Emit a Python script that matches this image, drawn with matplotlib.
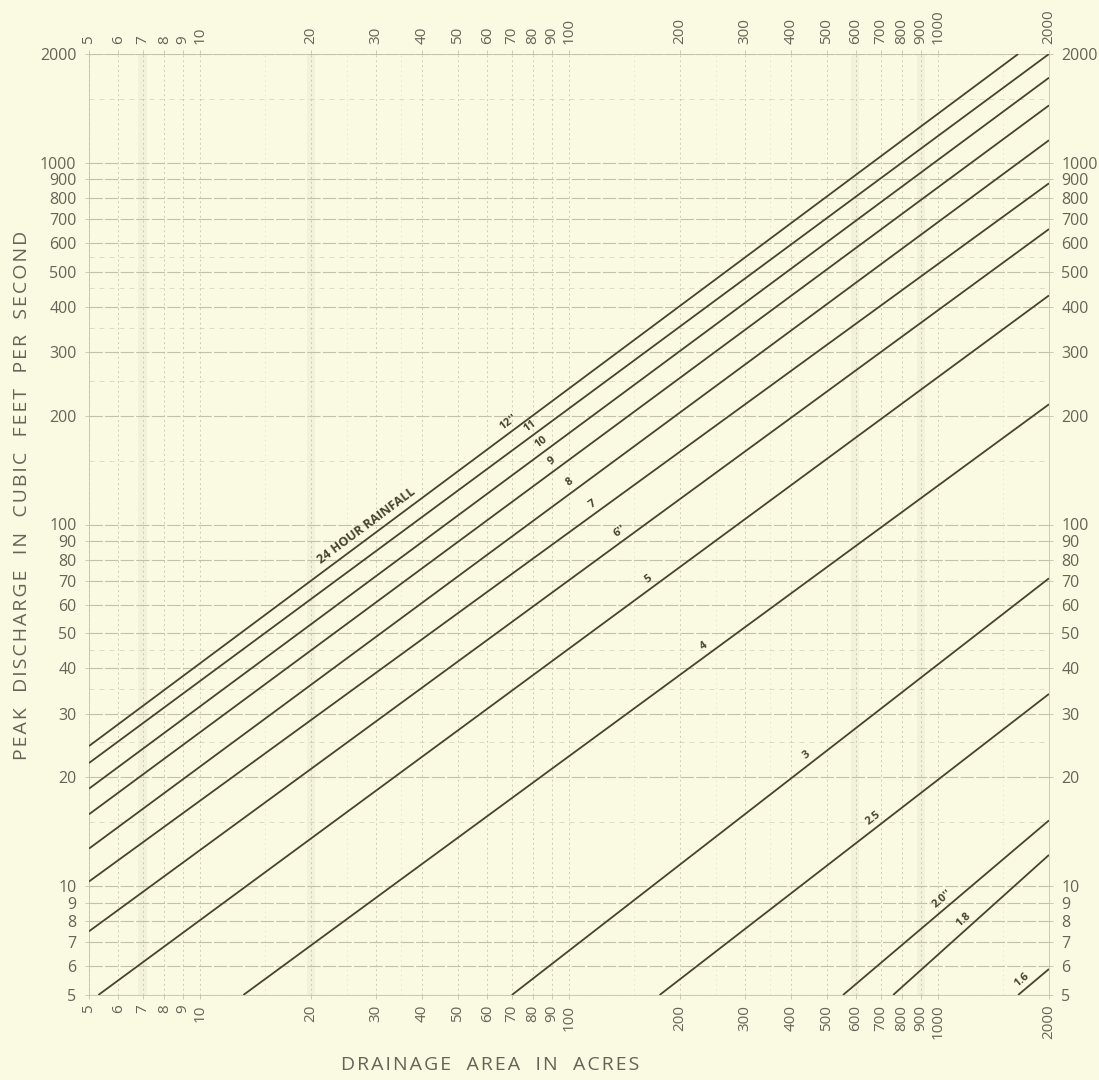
import numpy as np
import matplotlib
matplotlib.use("Agg")
import matplotlib.pyplot as plt

# 24-hour rainfall curves, each given by its two end points
rain_labels = ["12''", "11", "10", "9", "8", "7", "6''", "5", "4", "3",
               "2.5", "2.0''", "1.8", "1.6"]
x_start = [5, 5, 5, 5, 5, 5, 5, 5.3, 13.1, 70, 176, 553, 756, 1649]
y_start = [24.4, 21.9, 18.6, 15.8, 12.7, 10.3, 7.5, 5, 5, 5, 5, 5, 5, 5]
x_end = [1650, 2000, 2000, 2000, 2000, 2000, 2000, 2000, 2000, 2000,
         2000, 2000, 2000, 2000]
y_end = [2000, 2000, 1720, 1442, 1155, 878, 656, 430, 215, 71, 34, 15.2,
         12.2, 5.9]
# where along each curve its label sits (drainage area)
label_x = [71, 81, 87, 93, 104, 120, 142, 170, 240, 455, 690, 1065, 1220, 1750]

x_ticks = [5, 6, 7, 8, 9, 10, 20, 30, 40, 50, 60, 70, 80, 90, 100,
           200, 300, 400, 500, 600, 700, 800, 900, 1000, 2000]
y_ticks = [5, 6, 7, 8, 9, 10, 20, 30, 40, 50, 60, 70, 80, 90, 100,
           200, 300, 400, 500, 600, 700, 800, 900, 1000, 2000]
y_minor = [15, 25, 35, 45, 150, 250, 350, 450, 550, 1500]
x_minor = [15, 25, 35, 150, 250, 350, 1500]

paper = "#fafae2"
ink = "#48432f"
grey = "#646458"
grid = "#c2c2ac"

plt.rcParams['font.family'] = ['Open Sans', 'DejaVu Sans']


def spaced(s):
    # wide letter spacing like the printed axis titles
    return "   ".join("\u200a".join(w) for w in s.split())


fig = plt.figure(figsize=(10.99, 10.80), dpi=100, facecolor=paper)
ax = fig.add_axes([89 / 1099, 1 - 995 / 1080, 960 / 1099, 941 / 1080])
ax.set_facecolor(paper)
ax.set_xscale("log")
ax.set_yscale("log")
ax.set_xlim(5, 2000)
ax.set_ylim(5, 2000)

# log paper grid
for v in y_ticks:
    ax.axhline(v, color=grid, lw=0.8, ls=(0, (12, 2)), zorder=1)
for v in y_minor:
    ax.axhline(v, color=grid, lw=0.6, ls=(0, (6, 6)), alpha=0.6, zorder=1)
for v in x_ticks:
    ax.axvline(v, color=grid, lw=0.7, ls=(0, (2, 3)), alpha=0.8, zorder=1)
for v in x_minor:
    ax.axvline(v, color=grid, lw=0.5, ls=(0, (2, 5)), alpha=0.5, zorder=1)
# faint scan bands
for a, b in [(6.8, 7.2), (19.5, 20.5), (580, 610), (880, 920)]:
    ax.axvspan(a, b, color="#eeedd5", alpha=0.6, lw=0, zorder=0)

for sp in ax.spines.values():
    sp.set_color(grid)
    sp.set_linewidth(0.6)

ax.set_xticks(x_ticks)
ax.set_xticklabels([str(v) for v in x_ticks], rotation=90)
ax.set_yticks(y_ticks)
ax.set_yticklabels([str(v) for v in y_ticks])
ax.minorticks_off()
ax.tick_params(axis="both", which="both", length=3, width=0.6, color=grid,
               labelcolor=grey, top=True, right=True, labeltop=True,
               labelright=True)
ax.tick_params(axis="y", labelsize=11.5, pad=6)
ax.tick_params(axis="x", labelsize=11, pad=4)

# rainfall curves
for i, lab in enumerate(rain_labels):
    ax.plot([x_start[i], x_end[i]], [y_start[i], y_end[i]], color=ink,
            lw=1.3, zorder=3, solid_capstyle="butt")

for i, lab in enumerate(rain_labels):
    slope = np.log(y_end[i] / y_start[i]) / np.log(x_end[i] / x_start[i])
    xl = label_x[i]
    yl = y_start[i] * (xl / x_start[i]) ** slope
    p0 = ax.transData.transform((x_start[i], y_start[i]))
    p1 = ax.transData.transform((x_end[i], y_end[i]))
    ang = np.degrees(np.arctan2(p1[1] - p0[1], p1[0] - p0[0]))
    off = 6.5
    ax.annotate(lab, xy=(xl, yl),
                xytext=(-off * np.sin(np.radians(ang)),
                        off * np.cos(np.radians(ang))),
                textcoords="offset points", rotation=ang,
                rotation_mode="anchor", ha="center", va="center",
                fontsize=8, fontweight="bold", color=ink, zorder=4)
    if i == 0:
        xt = 29.5
        yt = y_start[i] * (xt / x_start[i]) ** slope
        ax.annotate("24 HOUR RAINFALL", xy=(xt, yt),
                    xytext=(-8 * np.sin(np.radians(ang)),
                            8 * np.cos(np.radians(ang))),
                    textcoords="offset points", rotation=ang,
                    rotation_mode="anchor", ha="center", va="center",
                    fontsize=9, fontweight="bold", color=ink, zorder=4)

fig.text(22 / 1099, 1 - 495 / 1080,
         spaced("PEAK DISCHARGE IN CUBIC FEET PER SECOND"),
         rotation=90, ha="center", va="center", fontsize=14, color=grey)
fig.text(490 / 1099, 1 - 1065 / 1080, spaced("DRAINAGE AREA IN ACRES"),
         ha="center", va="center", fontsize=14, color=grey)

fig.savefig("out.png", dpi=100, facecolor=paper)
